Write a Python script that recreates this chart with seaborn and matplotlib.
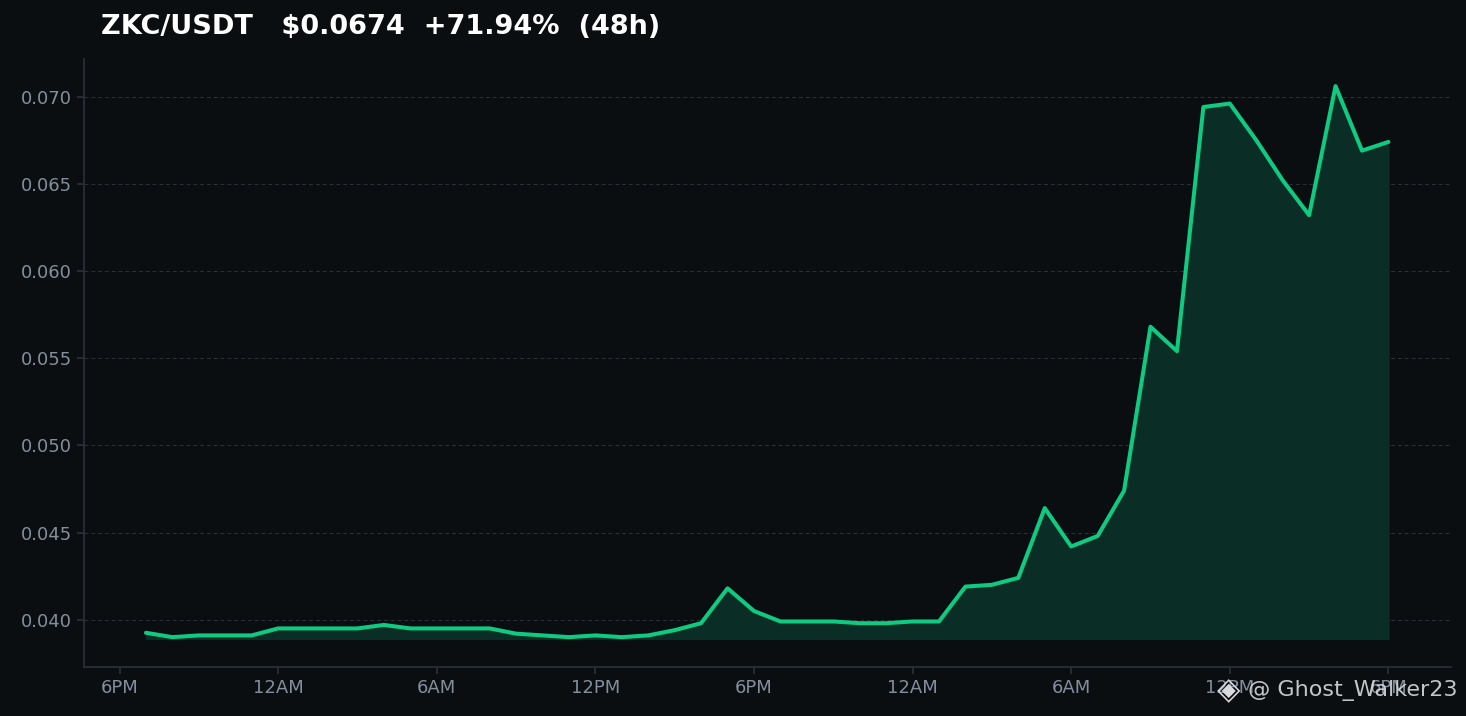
import numpy as np
import pandas as pd
import matplotlib
matplotlib.use("Agg")
import matplotlib.pyplot as plt
import seaborn as sns

# hourly closes, 7PM day 1 -> 6PM day 3
hours = list(range(1, 49))
price = [0.03925, 0.0390, 0.0391, 0.0391, 0.0391, 0.0395, 0.0395, 0.0395,
         0.0395, 0.0397, 0.0395, 0.0395, 0.0395, 0.0395, 0.0392, 0.0391,
         0.0390, 0.0391, 0.0390, 0.0391, 0.0394, 0.0398, 0.0418, 0.0405,
         0.0399, 0.0399, 0.0399, 0.0398, 0.0398, 0.0399, 0.0399, 0.0419,
         0.0420, 0.0424, 0.0464, 0.0442, 0.0448, 0.0474, 0.0568, 0.0554,
         0.0694, 0.0696, 0.0675, 0.0652, 0.0632, 0.0706, 0.0669, 0.0674]
tick_pos = [0, 6, 12, 18, 24, 30, 36, 42, 48]
tick_labels = ["6PM", "12AM", "6AM", "12PM", "6PM", "12AM", "6AM", "12PM", "6PM"]
title = "ZKC/USDT   $0.0674  +71.94%  (48h)"

df = pd.DataFrame({"hour": hours, "price": price})

bg = "#0b0e11"
green = "#0ecb81"

sns.set_style("dark")
plt.rcParams['font.family'] = ['DejaVu Sans']

fig, ax = plt.subplots(figsize=(14.66, 7.16), dpi=100)
fig.patch.set_facecolor(bg)
ax.set_facecolor(bg)
fig.subplots_adjust(left=0.057, right=0.99, top=0.917, bottom=0.068)

base = min(price) - 0.0001
ax.fill_between(df["hour"], df["price"], base, color="#0a2e25", alpha=1.0, zorder=1)
sns.lineplot(data=df, x="hour", y="price", color=green, linewidth=2.9, ax=ax, zorder=3)

ax.set_xlim(-1.36, 50.38)
ax.set_ylim(0.03727, 0.07213)
ax.set_yticks([0.040, 0.045, 0.050, 0.055, 0.060, 0.065, 0.070])
ax.yaxis.set_major_formatter(matplotlib.ticker.FormatStrFormatter("%.3f"))
ax.set_xticks(tick_pos)
ax.set_xticklabels(tick_labels)
ax.set_xlabel("")
ax.set_ylabel("")

ax.grid(axis="y", color="#2b3139", linestyle=(0, (4, 3)), linewidth=0.7)
ax.grid(axis="x", visible=False)
for s in ["top", "right"]:
    ax.spines[s].set_visible(False)
for s in ["left", "bottom"]:
    ax.spines[s].set_visible(True)
    ax.spines[s].set_color("#2b3139")
    ax.spines[s].set_linewidth(1.2)
ax.tick_params(axis="both", colors="#2b3139", labelcolor="#848e9c",
               labelsize=13, length=5, width=1.2, left=True, bottom=True)

fig.text(0.069, 0.962, title, color="white", fontsize=19.5, fontweight="bold",
         ha="left", va="center")

# watermark
fig.text(0.838, 0.036, "\u25c8", color="#d8dadd", fontsize=22, ha="center", va="center")
fig.text(0.994, 0.035, "@ Ghost_Walker23", color="#d8dadd", fontsize=16,
         ha="right", va="center", alpha=0.9)

fig.savefig("out.png", dpi=100, facecolor=bg)
